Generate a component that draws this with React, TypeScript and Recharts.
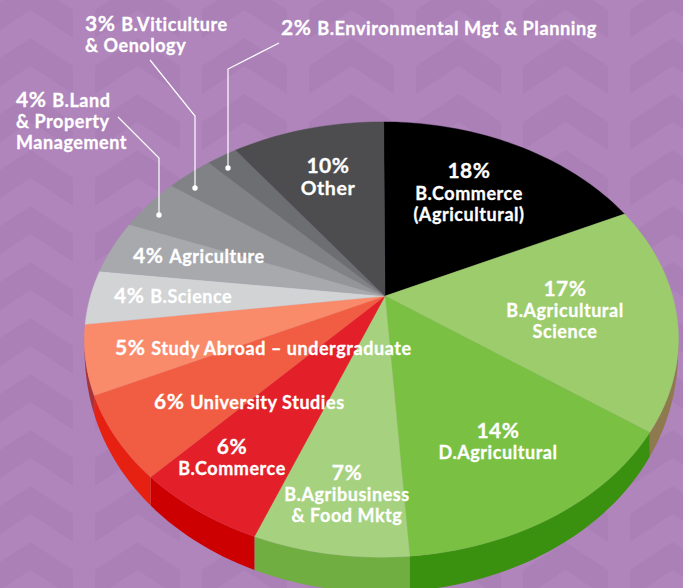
import React from "react";
import { PieChart, Pie } from "recharts";

// ---- data
const categories = [
  "B.Commerce (Agricultural)", "B.Agricultural Science", "D.Agricultural", "B.Agribusiness & Food Mktg",
  "B.Commerce", "University Studies", "Study Abroad – undergraduate", "B.Science", "Agriculture",
  "B.Land & Property Management", "B.Viticulture & Oenology", "B.Environmental Mgt & Planning", "Other",
];
const shares = [18, 17, 14, 7, 6, 6, 5, 4, 4, 4, 3, 2, 10];
const labelLines = [
  ["B.Commerce", "(Agricultural)"], ["B.Agricultural", "Science"], ["D.Agricultural"], ["B.Agribusiness", "& Food Mktg"],
  ["B.Commerce"], ["University Studies"], ["Study Abroad – undergraduate"], ["B.Science"], ["Agriculture"],
  ["B.Land", "& Property", "Management"], ["B.Viticulture", "& Oenology"], ["B.Environmental Mgt & Planning"], ["Other"],
];

// ---- styles
const topColors = ["#000000", "#9ccc6c", "#7ac143", "#a6d27f", "#e3202a", "#f15d42", "#f98b6b", "#d1d3d4", "#a7a9ac", "#939598", "#808285", "#6d6e71", "#4d4d4f"];
const wallColors = ["#000000", "#8f7a50", "#3a9110", "#70ae42", "#cc0000", "#e62112", "#a5333a", "#8a8a8a", "#777777", "#666666", "#555555", "#444444", "#333333"];
const layouts = [
  { x: 469, ys: [178, 200, 221], inline: false, size: 18 },
  { x: 565, ys: [296, 317, 338], inline: false, size: 18 },
  { x: 498, ys: [438, 459], inline: false, size: 18 },
  { x: 347, ys: [480, 501, 522], inline: false, size: 18 },
  { x: 232, ys: [454, 475], inline: false, size: 18 },
  { x: 154, ys: [409], inline: true, size: 18 },
  { x: 115, ys: [355], inline: true, size: 18 },
  { x: 114, ys: [303], inline: true, size: 18 },
  { x: 133, ys: [263], inline: true, size: 18 },
  { x: 16, ys: [107, 128, 149], inline: true, size: 18 },
  { x: 85, ys: [31, 52], inline: true, size: 18 },
  { x: 281, ys: [35], inline: true, size: 18.2 },
  { x: 328, ys: [173, 195], inline: false, size: 19.5 },
];
const leaders: Record<number, number[][]> = {
  9: [[118, 117], [159, 158], [159, 215]],
  10: [[150, 60], [195, 116], [195, 188]],
  11: [[279, 43], [228, 69], [228, 168]],
};
const FONT = "Lato, sans-serif";
const PCT_SIZE = 21;

const tableData = categories.map((name, i) => ({
  name,
  value: shares[i],
  fill: topColors[i],
  wall: wallColors[i],
}));

// ---- perspective projection of the pie disc
const PERSPECTIVE = 0.2;
const LEAN = 0.0118;
const SQUASH = 0.718;
const project = (cx: number, cy: number, r: number, deg: number) => {
  const t = (deg * Math.PI) / 180;
  const u = Math.cos(t);
  const v = Math.sin(t);
  const w = 1 + PERSPECTIVE * v + LEAN * u;
  return { x: cx + (r * u) / w, y: cy - (r * SQUASH * v) / w, v };
};
const wallDepth = (v: number) => (v < -0.2 ? 35 * Math.sqrt((-v - 0.2) / 0.8) : 0);

const rim = (start: number, end: number) => {
  const n = Math.max(2, Math.ceil(Math.abs(end - start) / 1.5));
  return Array.from({ length: n + 1 }, (_, i) => start + ((end - start) * i) / n);
};

const TopSlice = (p: any) => {
  const pts = rim(p.startAngle, p.endAngle).map((a) => project(p.cx, p.cy, p.outerRadius, a));
  const d = `M${p.cx},${p.cy}` + pts.map((q) => `L${q.x.toFixed(2)},${q.y.toFixed(2)}`).join("") + "Z";
  return <path d={d} fill={p.fill} stroke={p.fill} strokeWidth={0.4} />;
};

const WallSlice = (p: any) => {
  const pts = rim(p.startAngle, p.endAngle).map((a) => project(p.cx, p.cy, p.outerRadius, a));
  const upper = pts.map((q) => `${q.x.toFixed(2)},${q.y.toFixed(2)}`);
  const lower = [...pts].reverse().map((q) => `${q.x.toFixed(2)},${(q.y + wallDepth(q.v)).toFixed(2)}`);
  return <path d={"M" + upper.concat(lower).join("L") + "Z"} fill={p.wall} />;
};

const SliceLabel = (p: any) => {
  const i = p.index as number;
  const lay = layouts[i];
  const pct = `${shares[i]}%`;
  const lines = labelLines[i];
  const common = {
    fill: "#ffffff",
    stroke: "#ffffff",
    strokeWidth: 0.3,
    letterSpacing: 0.55,
    fontFamily: FONT,
    fontWeight: 700,
    textAnchor: lay.inline ? "start" : "middle",
  } as const;
  const leader = leaders[i];
  const tip = leader ? leader[leader.length - 1] : null;
  return (
    <g>
      {leader && <polyline points={leader.map((q) => q.join(",")).join(" ")} fill="none" stroke="#ffffff" strokeWidth={1.2} />}
      {tip && <circle cx={tip[0]} cy={tip[1]} r={2.7} fill="#ffffff" />}
      {lay.inline ? (
        lines.map((line, k) => (
          <text key={k} x={lay.x} y={lay.ys[k]} fontSize={lay.size} {...common}>
            {k === 0 && <tspan fontSize={PCT_SIZE}>{pct} </tspan>}
            {line}
          </text>
        ))
      ) : (
        <>
          <text x={lay.x} y={lay.ys[0]} fontSize={PCT_SIZE} {...common}>{pct}</text>
          {lines.map((line, k) => (
            <text key={k} x={lay.x} y={lay.ys[k + 1]} fontSize={lay.size} {...common}>{line}</text>
          ))}
        </>
      )}
    </g>
  );
};

export default function App() {
  return (
    <div style={{ position: "absolute", left: 0, top: 0, width: 683, height: 588, overflow: "hidden" }}>
      <PieChart width={683} height={588} margin={{ top: 0, right: 0, bottom: 0, left: 0 }}>
        <defs>
          <pattern id="chev" patternUnits="userSpaceOnUse" x={-12} y={38} width={107} height={56}>
            <polygon points="0,28 42.5,0 85,28 85,56 42.5,28 0,56" fill="#aa80b7" />
          </pattern>
        </defs>
        <rect x={0} y={0} width={683} height={588} fill="#af85bc" />
        <rect x={0} y={0} width={683} height={588} fill="url(#chev)" />
        <Pie
          data={tableData} dataKey="value" nameKey="name" cx={385} cy={296} innerRadius={0} outerRadius={291}
          startAngle={90.3} endAngle={-269.7} paddingAngle={0} stroke="none" isAnimationActive={false}
          shape={WallSlice} label={false} labelLine={false}
        />
        <Pie
          data={tableData} dataKey="value" nameKey="name" cx={385} cy={296} innerRadius={0} outerRadius={291}
          startAngle={90.3} endAngle={-269.7} paddingAngle={0} stroke="none" isAnimationActive={false}
          shape={TopSlice} label={SliceLabel} labelLine={false}
        />
      </PieChart>
    </div>
  );
}
